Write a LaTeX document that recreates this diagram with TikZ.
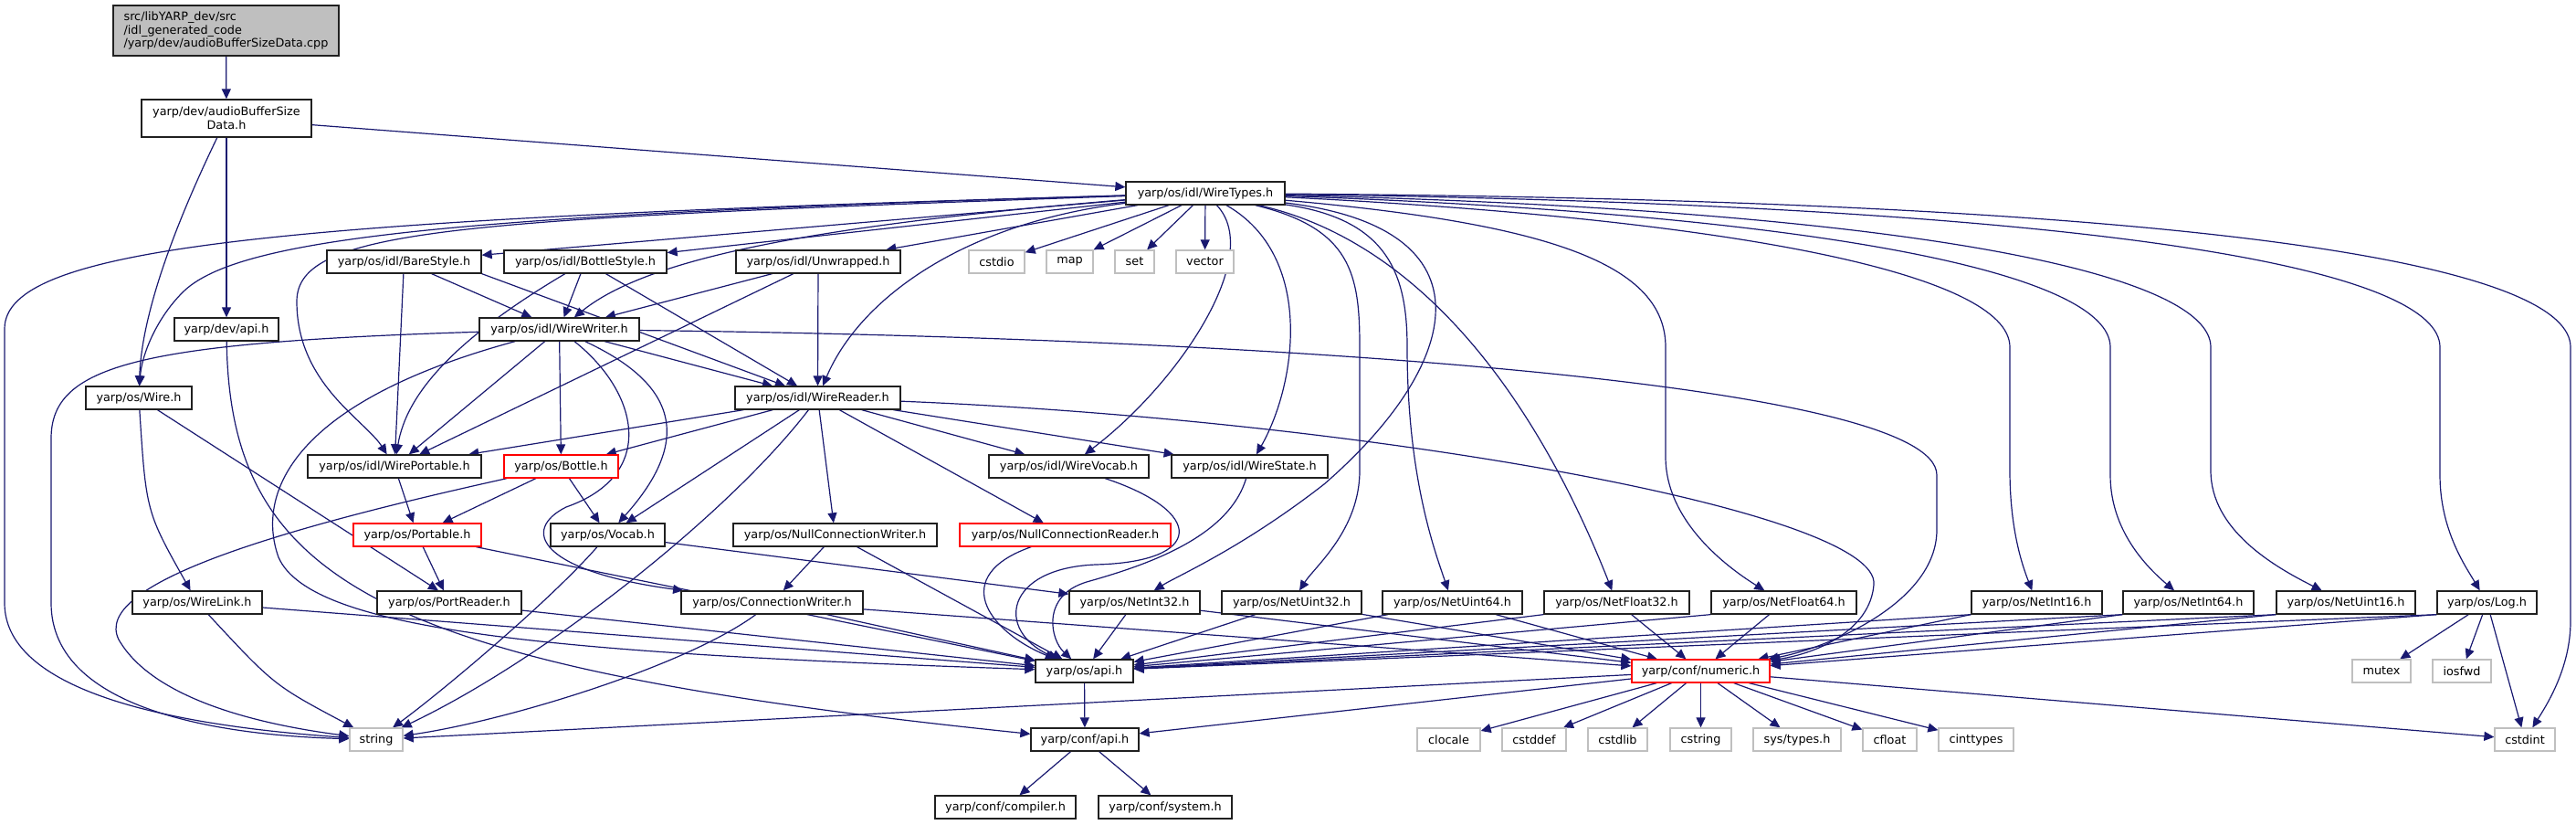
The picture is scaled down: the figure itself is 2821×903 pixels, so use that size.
\documentclass[tikz,border=0pt]{standalone}
\usepackage{fontspec}
\setmainfont{DejaVu Sans}
\usetikzlibrary{arrows.meta}
\definecolor{edgec}{HTML}{191970}
\definecolor{redc}{HTML}{FF0000}
\definecolor{grayc}{HTML}{BFBFBF}
\definecolor{bordc}{HTML}{202020}
\pgfdeclarelayer{bg}
\pgfsetlayers{bg,main}
\tikzset{
  box/.style={draw=bordc, fill=white, line width=0.65pt, minimum height=12.5pt, inner sep=0pt,
    font=\fontsize{6.4}{7.35}\selectfont},
  redbox/.style={box, draw=redc},
  sysbox/.style={box, draw=grayc},
  edg/.style={draw=edgec, line width=0.6pt, -{Triangle[length=5.5pt,width=5pt]}},
}
\begin{document}
\begin{tikzpicture}[x=0.5pt,y=-0.5pt]
\useasboundingbox (0,0) rectangle (2821,903);
% row 0-1
\node[box, fill=grayc, minimum width=123.5pt, minimum height=27.5pt, align=left] (root) at (247.5,33.5)
  {src/libYARP\_dev/src\\/idl\_generated\_code\\/yarp/dev/audioBufferSizeData.cpp};
\node[box, minimum width=93pt, minimum height=20.5pt, align=center] (abs) at (248,129.5)
  {yarp/dev/audioBufferSize\\Data.h};
% row 2
\node[box, minimum width=87pt] (wt) at (1320,211.5) {yarp/os/idl/WireTypes.h};
% row 3
\node[box, minimum width=84.5pt] (bare) at (442.5,286.5) {yarp/os/idl/BareStyle.h};
\node[box, minimum width=89pt] (bottlest) at (641,286.5) {yarp/os/idl/BottleStyle.h};
\node[box, minimum width=90pt] (unwr) at (896,286.5) {yarp/os/idl/Unwrapped.h};
\node[sysbox, minimum width=30.5pt] (cstdio) at (1091.5,286.5) {cstdio};
\node[sysbox, minimum width=25.5pt] (map) at (1171.5,286.5) {map};
\node[sysbox, minimum width=21.5pt] (set) at (1242.5,286.5) {set};
\node[sysbox, minimum width=31.5pt] (vector) at (1319.5,286.5) {vector};
% row 4
\node[box, minimum width=57pt] (devapi) at (248,360.5) {yarp/dev/api.h};
\node[box, minimum width=87.5pt] (ww) at (612.5,360.5) {yarp/os/idl/WireWriter.h};
% row 5
\node[box, minimum width=58pt] (wire) at (152,435.5) {yarp/os/Wire.h};
\node[box, minimum width=90.5pt] (wr) at (895.5,435.5) {yarp/os/idl/WireReader.h};
% row 6
\node[box, minimum width=95pt] (wp) at (432,510.5) {yarp/os/idl/WirePortable.h};
\node[redbox, minimum width=62.5pt] (bottle) at (614.5,510.5) {yarp/os/Bottle.h};
\node[box, minimum width=87.5pt] (wvoc) at (1170.5,510.5) {yarp/os/idl/WireVocab.h};
\node[box, minimum width=85.5pt] (wstate) at (1368.5,510.5) {yarp/os/idl/WireState.h};
% row 7
\node[redbox, minimum width=70pt] (portable) at (457,585.5) {yarp/os/Portable.h};
\node[box, minimum width=62.5pt] (vocab) at (665.5,585.5) {yarp/os/Vocab.h};
\node[box, minimum width=111.5pt] (ncw) at (914.5,585.5) {yarp/os/NullConnectionWriter.h};
\node[redbox, minimum width=115.5pt] (ncr) at (1166.5,585.5) {yarp/os/NullConnectionReader.h};
% row 8
\node[box, minimum width=71pt] (wlink) at (216,659.5) {yarp/os/WireLink.h};
\node[box, minimum width=79pt] (preader) at (492,659.5) {yarp/os/PortReader.h};
\node[box, minimum width=99.5pt] (cw) at (845.5,659.5) {yarp/os/ConnectionWriter.h};
\node[box, minimum width=71.5pt] (ni32) at (1242.5,659.5) {yarp/os/NetInt32.h};
\node[box, minimum width=76.5pt] (nu32) at (1414.5,659.5) {yarp/os/NetUint32.h};
\node[box, minimum width=76.5pt] (nu64) at (1590.5,659.5) {yarp/os/NetUint64.h};
\node[box, minimum width=79.5pt] (nf32) at (1770.5,659.5) {yarp/os/NetFloat32.h};
\node[box, minimum width=79.5pt] (nf64) at (1953.5,659.5) {yarp/os/NetFloat64.h};
\node[box, minimum width=71.5pt] (ni16) at (2230.5,659.5) {yarp/os/NetInt16.h};
\node[box, minimum width=71.5pt] (ni64) at (2396.5,659.5) {yarp/os/NetInt64.h};
\node[box, minimum width=76pt] (nu16) at (2569,659.5) {yarp/os/NetUint16.h};
\node[box, minimum width=54.5pt] (log) at (2723.5,659.5) {yarp/os/Log.h};
% row 9
\node[box, minimum width=53.5pt] (osapi) at (1187.5,734.5) {yarp/os/api.h};
\node[redbox, minimum width=75.5pt] (numeric) at (1862.5,734.5) {yarp/conf/numeric.h};
\node[sysbox, minimum width=32pt] (mutex) at (2608,734.5) {mutex};
\node[sysbox, minimum width=32pt] (iosfwd) at (2696,734.5) {iosfwd};
% row 10
\node[sysbox, minimum width=29pt] (string) at (412,809.5) {string};
\node[box, minimum width=59pt] (confapi) at (1188,809.5) {yarp/conf/api.h};
\node[sysbox, minimum width=34.5pt] (clocale) at (1586.5,809.5) {clocale};
\node[sysbox, minimum width=35pt] (cstddef) at (1680,809.5) {cstddef};
\node[sysbox, minimum width=32.5pt] (cstdlib) at (1771.5,809.5) {cstdlib};
\node[sysbox, minimum width=33.5pt] (cstring) at (1862.5,809.5) {cstring};
\node[sysbox, minimum width=48pt] (systypes) at (1968,809.5) {sys/types.h};
\node[sysbox, minimum width=29.5pt] (cfloat) at (2069.5,809.5) {cfloat};
\node[sysbox, minimum width=41pt] (cinttypes) at (2164,809.5) {cinttypes};
\node[sysbox, minimum width=33pt] (cstdint) at (2765,809.5) {cstdint};
% row 11
\node[box, minimum width=77pt] (compiler) at (1101,883.5) {yarp/conf/compiler.h};
\node[box, minimum width=73pt] (system) at (1276,883.5) {yarp/conf/system.h};

\begin{pgfonlayer}{bg}
\draw[edg] (root) -- (abs);
\draw[edg] (abs) -- (wt);
\draw[edg] (abs) -- (devapi);
\draw[edg] (abs) .. controls (185,260) and (155,350) .. (wire);
% WireTypes
\draw[edg] (wt) .. controls (300,240) and (5,270) .. (5,360) -- (5,660) .. controls (5,760) and (200,795) .. (string);
\draw[edg] (wt) .. controls (500,235) and (260,260) .. (200,320) .. controls (170,350) and (155,390) .. (wire);
\draw[edg] (wt) .. controls (500,240) and (325,250) .. (325,330) .. controls (325,420) and (400,460) .. (wp);
\draw[edg] (wt) -- (bare);
\draw[edg] (wt) -- (bottlest);
\draw[edg] (wt) -- (unwr);
\draw[edg] (wt) .. controls (850,250) and (700,290) .. (ww);
\draw[edg] (wt) .. controls (1050,245) and (940,330) .. (wr);
\draw[edg] (wt) -- (cstdio);
\draw[edg] (wt) -- (map);
\draw[edg] (wt) -- (set);
\draw[edg] (wt) -- (vector);
\draw[edg] (wt) .. controls (1385,280) and (1290,420) .. (wvoc);
\draw[edg] (wt) .. controls (1440,280) and (1420,420) .. (wstate);
\draw[edg] (wt) .. controls (1640,250) and (1600,400) .. (1450,530) .. controls (1360,600) and (1290,630) .. (ni32);
\draw[edg] (wt) .. controls (1480,250) and (1489,300) .. (1489,380) -- (1489,515) .. controls (1489,580) and (1440,620) .. (nu32);
\draw[edg] (wt) .. controls (1520,240) and (1541,300) .. (1541,380) .. controls (1541,520) and (1570,600) .. (nu64);
\draw[edg] (wt) .. controls (1580,270) and (1700,480) .. (nf32);
\draw[edg] (wt) .. controls (1700,245) and (1824,290) .. (1824,380) -- (1824,500) .. controls (1824,570) and (1890,620) .. (nf64);
\draw[edg] (wt) .. controls (1900,240) and (2201,300) .. (2201,380) -- (2201,515) .. controls (2201,580) and (2215,620) .. (ni16);
\draw[edg] (wt) .. controls (2000,235) and (2311,300) .. (2311,380) -- (2311,520) .. controls (2311,580) and (2350,620) .. (ni64);
\draw[edg] (wt) .. controls (2100,230) and (2421,300) .. (2421,380) -- (2421,515) .. controls (2421,580) and (2490,620) .. (nu16);
\draw[edg] (wt) .. controls (2350,225) and (2672,300) .. (2672,380) -- (2672,520) .. controls (2672,580) and (2700,620) .. (log);
\draw[edg] (wt) .. controls (2500,220) and (2815,300) .. (2815,380) -- (2815,680) .. controls (2815,730) and (2790,770) .. (cstdint);
% styles
\draw[edg] (bare) -- (wp);
\draw[edg] (bare) -- (ww);
\draw[edg] (bare.south east) -- (wr);
\draw[edg] (bottlest) .. controls (500,370) and (445,430) .. (wp);
\draw[edg] (bottlest) -- (ww);
\draw[edg] (bottlest) -- (wr);
\draw[edg] (unwr) -- (wp);
\draw[edg] (unwr) -- (ww);
\draw[edg] (unwr) -- (wr);
% dev api
\draw[edg] (devapi) .. controls (252,640) and (420,730) .. (confapi);
% WireWriter
\draw[edg] (ww) .. controls (150,375) and (56,400) .. (56,480) -- (56,660) .. controls (56,780) and (250,805) .. (string);
\draw[edg] (ww) .. controls (320,440) and (280,540) .. (305,610) .. controls (340,690) and (600,715) .. (osapi);
\draw[edg] (ww) -- (wp);
\draw[edg] (ww) -- (bottle);
\draw[edg] (ww) .. controls (740,420) and (760,480) .. (vocab);
\draw[edg] (ww) .. controls (700,430) and (720,520) .. (620,555) .. controls (570,580) and (590,625) .. (cw);
\draw[edg] (ww) -- (wr);
\draw[edg] (ww) .. controls (1400,370) and (2121,420) .. (2121,520) -- (2121,580) .. controls (2121,660) and (2000,710) .. (numeric);
% Wire
\draw[edg] (wire) .. controls (160,560) .. (wlink);
\draw[edg] (wire) -- ([xshift=-6pt]preader.north);
% WireReader
\draw[edg] (wr) -- (wp);
\draw[edg] (wr) -- (bottle);
\draw[edg] (wr) -- (vocab);
\draw[edg] (wr) .. controls (800,560) and (600,720) .. (string);
\draw[edg] (wr) -- (wvoc);
\draw[edg] (wr) -- (wstate);
\draw[edg] (wr) -- (ncw);
\draw[edg] (wr) -- (ncr);
\draw[edg] (wr) .. controls (1500,460) and (2060,560) .. (2052,640) .. controls (2048,690) and (1990,715) .. (numeric);
% row 6/7
\draw[edg] (wp) -- (portable);
\draw[edg] (bottle) -- (portable);
\draw[edg] (bottle) -- (vocab);
\draw[edg] (bottle) .. controls (300,580) and (100,640) .. (130,700) .. controls (170,770) and (300,795) .. (string);
\draw[edg] (portable) -- (preader);
\draw[edg] (portable) -- (osapi);
\draw[edg] (vocab) .. controls (600,660) and (480,760) .. (string);
\draw[edg] (vocab) -- (ni32);
\draw[edg] (ncw) -- (cw);
\draw[edg] (ncw) -- (osapi);
\draw[edg] (ncr) .. controls (1040,630) and (1080,690) .. (osapi);
\draw[edg] (wvoc) .. controls (1320,560) and (1320,615) .. (1200,618) .. controls (1100,622) and (1090,690) .. (osapi);
\draw[edg] (wstate) .. controls (1345,590) and (1250,620) .. (1190,637) .. controls (1140,652) and (1150,700) .. (osapi);
% row 8
\draw[edg] (wlink) .. controls (300,750) .. (string);
\draw[edg] (wlink) -- (osapi);
\draw[edg] (preader) -- (osapi);
\draw[edg] (cw) -- (osapi);
\draw[edg] (cw) -- (numeric);
\draw[edg] (cw) .. controls (750,730) and (550,790) .. (string);
\draw[edg] (ni32) -- (osapi);
\draw[edg] (ni32) -- (numeric);
\draw[edg] (nu32) -- (osapi);
\draw[edg] (nu32) -- (numeric);
\draw[edg] (nu64) -- (osapi);
\draw[edg] (nu64) -- (numeric);
\draw[edg] (nf32.south west) -- (osapi);
\draw[edg] (nf32) -- (numeric);
\draw[edg] (nf64.south west) -- (osapi);
\draw[edg] (nf64) -- (numeric);
\draw[edg] (ni16.south west) -- (osapi);
\draw[edg] (ni16.south west) -- (numeric);
\draw[edg] (ni64.south west) -- (osapi);
\draw[edg] (ni64.south west) -- (numeric);
\draw[edg] (nu16.south west) -- (osapi);
\draw[edg] (nu16.south west) -- (numeric);
\draw[edg] (log.south west) -- (osapi);
\draw[edg] (log.south west) -- (numeric);
\draw[edg] (log) -- (mutex);
\draw[edg] (log) -- (iosfwd);
\draw[edg] (log) -- (cstdint);
% row 9
\draw[edg] (osapi) -- (confapi);
\draw[edg] (confapi) -- (compiler);
\draw[edg] (confapi) -- (system);
\draw[edg] (numeric) -- (confapi);
\draw[edg] (numeric) -- (string);
\draw[edg] (numeric) -- (clocale);
\draw[edg] (numeric) -- (cstddef);
\draw[edg] (numeric) -- (cstdlib);
\draw[edg] (numeric) -- (cstring);
\draw[edg] (numeric) -- (systypes);
\draw[edg] (numeric) -- (cfloat);
\draw[edg] (numeric) -- (cinttypes);
\draw[edg] (numeric) -- (cstdint);
\end{pgfonlayer}
\end{tikzpicture}
\end{document}
